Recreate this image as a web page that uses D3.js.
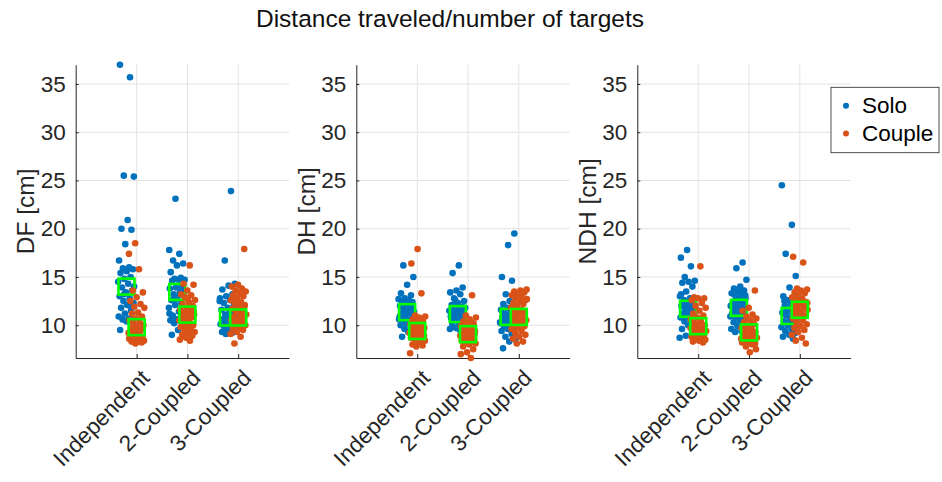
<!DOCTYPE html>
<html>
<head>
<meta charset="utf-8">
<script src="https://cdn.jsdelivr.net/npm/d3@7"></script>
<style>
  html, body { margin: 0; padding: 0; background: #fff; }
  svg { display: block; font-family: "Liberation Sans", Arial, Helvetica, sans-serif; }
</style>
</head>
<body>
<svg id="chart" width="942" height="482"></svg>
<script>
// Conditions shown on every panel
const categories = ["Independent", "2-Coupled", "3-Coupled"];
const groups = ["Solo", "Couple"];
const yTicks = [10, 15, 20, 25, 30, 35];
const yLimits = [6.6, 37];

// Distance travelled per target, one array per condition (cm)
const dfSolo = [
  [37.0, 35.7, 25.5, 25.4, 20.9, 20.0, 19.9, 18.4, 16.7, 16.0, 15.9, 15.8, 15.6, 15.4, 15.0, 14.8, 14.5, 14.3, 13.9, 13.6, 13.4, 13.0, 12.8, 12.5, 12.3, 12.1, 11.8, 11.5, 11.2, 10.9, 10.7, 10.6, 10.5, 10.4, 9.5, 12.0, 13.2, 14.0],
  [23.1, 17.8, 17.4, 16.7, 16.4, 16.2, 15.5, 14.9, 14.8, 14.7, 14.7, 14.6, 14.0, 13.9, 13.8, 13.4, 13.2, 13.1, 12.9, 12.6, 12.3, 12.1, 11.8, 11.4, 11.0, 10.8, 10.6, 10.5, 10.4, 10.2, 9.7, 9.5, 9.0, 13.6, 12.7, 11.2],
  [23.9, 16.7, 14.3, 14.1, 13.7, 13.2, 13.0, 12.8, 12.6, 12.3, 12.1, 11.8, 11.6, 11.3, 11.1, 11.0, 10.8, 10.6, 10.4, 10.2, 10.1, 9.9, 9.8, 9.6, 9.5, 9.3, 9.2, 9.1, 12.5, 11.5, 10.5, 9.4]
];
const dfCouple = [
  [18.5, 17.4, 15.8, 13.6, 13.4, 12.9, 12.5, 12.2, 11.9, 11.8, 11.3, 11.2, 10.9, 10.7, 10.5, 10.3, 10.1, 10.0, 9.8, 9.6, 9.5, 9.3, 9.2, 9.0, 8.9, 8.8, 8.7, 8.6, 8.5, 8.5, 8.4, 8.3, 8.3, 8.2, 8.1, 8.6, 9.1, 9.4],
  [16.2, 14.3, 14.2, 13.6, 13.2, 13.1, 12.9, 12.6, 12.4, 12.2, 12.0, 11.8, 11.6, 11.5, 11.3, 11.1, 11.0, 10.9, 10.8, 10.6, 10.5, 10.3, 10.2, 10.0, 9.9, 9.8, 9.6, 9.5, 9.3, 9.2, 9.0, 8.9, 8.7, 8.5, 8.4, 10.7, 11.4, 12.8],
  [17.9, 14.2, 14.0, 13.8, 13.6, 13.5, 13.3, 13.1, 13.0, 12.8, 12.6, 12.4, 12.3, 12.1, 11.9, 11.7, 11.5, 11.3, 11.1, 11.0, 10.9, 10.8, 10.6, 10.5, 10.3, 10.2, 10.0, 9.8, 9.7, 9.5, 9.3, 9.1, 8.8, 8.1, 12.0, 11.2, 10.7, 10.4]
];
const dhSolo = [
  [16.2, 15.0, 14.2, 13.3, 13.1, 12.8, 12.7, 12.6, 12.4, 12.4, 12.2, 12.0, 11.8, 11.6, 11.4, 11.3, 11.2, 11.0, 10.8, 10.6, 10.5, 10.4, 10.3, 10.2, 10.0, 9.8, 9.6, 9.5, 9.3, 8.8, 11.9, 11.5, 10.9, 12.1, 11.7, 10.7],
  [16.2, 15.4, 13.9, 13.6, 13.4, 13.2, 12.8, 12.5, 12.3, 12.1, 11.9, 11.7, 11.5, 11.4, 11.3, 11.2, 11.0, 10.9, 10.8, 10.6, 10.5, 10.3, 10.1, 9.9, 9.7, 9.6, 9.5, 12.0, 11.6, 11.1, 10.7, 10.4, 12.6, 11.8],
  [19.5, 18.3, 15.0, 14.6, 13.2, 12.9, 12.5, 12.2, 12.0, 11.8, 11.6, 11.4, 11.2, 11.0, 10.9, 10.8, 10.7, 10.5, 10.3, 10.1, 9.9, 9.8, 9.6, 9.4, 9.1, 8.8, 8.5, 8.3, 7.6, 11.5, 10.6, 10.2]
];
const dhCouple = [
  [17.9, 16.4, 13.3, 11.0, 10.9, 10.8, 10.6, 10.4, 10.3, 10.1, 10.0, 9.9, 9.7, 9.6, 9.5, 9.4, 9.3, 9.2, 9.1, 9.0, 8.9, 8.8, 8.7, 8.6, 8.5, 8.4, 8.2, 8.0, 7.9, 7.8, 7.1, 9.8, 9.2, 8.9, 10.2, 9.5],
  [13.1, 11.0, 10.8, 10.6, 10.4, 10.2, 10.0, 9.9, 9.7, 9.5, 9.4, 9.3, 9.2, 9.1, 9.0, 8.9, 8.8, 8.7, 8.6, 8.5, 8.4, 8.3, 8.2, 8.1, 8.0, 7.8, 7.5, 7.2, 7.0, 6.6, 9.6, 9.1, 8.8, 8.6, 10.1, 9.8],
  [13.7, 13.6, 13.5, 13.4, 13.2, 13.1, 12.9, 12.8, 12.6, 12.5, 12.3, 12.2, 12.0, 11.8, 11.6, 11.4, 11.3, 11.1, 10.9, 10.8, 10.6, 10.5, 10.3, 10.1, 10.0, 9.8, 9.6, 9.4, 9.2, 9.0, 8.8, 8.6, 8.3, 8.1, 12.7, 11.5, 10.7, 9.9]
];
const ndhSolo = [
  [17.8, 17.0, 16.1, 15.0, 14.6, 14.5, 14.4, 14.0, 13.5, 13.0, 12.8, 12.6, 12.4, 12.2, 12.0, 11.9, 11.7, 11.5, 11.4, 11.2, 11.0, 10.9, 10.8, 10.6, 10.4, 10.2, 10.0, 9.6, 9.2, 8.9, 8.7, 11.6, 12.1, 11.3, 12.5, 13.2],
  [16.5, 15.9, 14.7, 14.0, 13.8, 13.6, 13.5, 13.3, 13.2, 13.0, 12.8, 12.6, 12.4, 12.3, 12.1, 12.0, 11.8, 11.6, 11.5, 11.4, 11.2, 11.0, 10.8, 10.7, 10.5, 10.3, 10.1, 9.9, 9.6, 9.4, 9.3, 13.1, 12.7, 12.2, 11.9, 11.3, 10.9, 13.6],
  [24.5, 20.4, 17.4, 15.1, 13.9, 13.0, 12.8, 12.6, 12.4, 12.2, 12.0, 11.8, 11.6, 11.3, 11.1, 11.0, 10.8, 10.6, 10.4, 10.2, 10.0, 9.8, 9.6, 9.4, 9.2, 9.0, 8.8, 8.6, 11.5, 10.7, 10.1, 12.5]
];
const ndhCouple = [
  [16.1, 12.9, 12.8, 12.8, 12.6, 12.3, 12.0, 11.8, 11.5, 11.2, 11.0, 10.8, 10.6, 10.4, 10.2, 10.0, 9.9, 9.8, 9.6, 9.5, 9.4, 9.3, 9.1, 9.0, 8.9, 8.8, 8.7, 8.6, 8.5, 8.4, 8.3, 8.2, 10.1, 9.7, 9.2, 8.6],
  [13.6, 11.8, 11.5, 11.1, 10.9, 10.7, 10.5, 10.3, 10.1, 9.9, 9.7, 9.6, 9.4, 9.3, 9.1, 9.0, 8.9, 8.8, 8.7, 8.6, 8.5, 8.4, 8.3, 8.2, 8.0, 7.8, 7.5, 7.2, 9.5, 9.2, 8.9, 8.6, 10.2, 9.8, 8.1, 9.0],
  [17.1, 16.5, 13.8, 13.7, 13.6, 13.4, 13.3, 13.1, 12.9, 12.7, 12.6, 12.4, 12.2, 12.1, 11.9, 11.7, 11.6, 11.4, 11.2, 11.0, 10.9, 10.7, 10.5, 10.3, 10.1, 9.9, 9.7, 9.5, 9.3, 9.0, 8.7, 8.4, 8.1, 12.8, 11.5, 10.8, 10.0, 12.3]
];

// Group averages per condition
const dfSoloMean = [14.0, 13.45, 10.8];
const dfCoupleMean = [9.8, 11.1, 10.8];
const dhSoloMean = [11.35, 11.15, 10.86];
const dhCoupleMean = [9.4, 9.07, 10.86];
const ndhSoloMean = [11.7, 11.8, 10.96];
const ndhCoupleMean = [9.9, 9.25, 11.6];

const panelLabels = ["DF [cm]", "DH [cm]", "NDH [cm]"];
const panelSolo = [dfSolo, dhSolo, ndhSolo];
const panelCouple = [dfCouple, dhCouple, ndhCouple];
const panelSoloMean = [dfSoloMean, dhSoloMean, ndhSoloMean];
const panelCoupleMean = [dfCoupleMean, dhCoupleMean, ndhCoupleMean];

// ---- drawing ----
const svg = d3.select("#chart");
const colors = { Solo: "#0072BD", Couple: "#D95319" };
const axisColor = "#262626";
const gridColor = "#e3e3e3";
const tickFont = 22.5;
const labelFont = 24.5;

const panelLeft = [75.7, 356.3, 637.3];
const panelWidth = 213.3;
const panelTop = 64.7;
const panelHeight = 293.3;

// group offsets from the category centre and jitter half-width (category units)
const groupOffset = { Solo: -0.21, Couple: 0.0 };
const meanOffset = { Solo: -0.2, Couple: 0.0 };
const jitterHalf = 0.16;
const golden = 0.6180339887;
function jitter(i, seed) {
  const u = (seed + i * golden) % 1;
  return (u - 0.5) * 2 * jitterHalf;
}

svg.append("text")
  .attr("x", 450).attr("y", 27)
  .attr("text-anchor", "middle")
  .attr("font-size", labelFont)
  .attr("fill", "#111")
  .text("Distance traveled/number of targets");

panelLabels.forEach((label, p) => {
  const g = svg.append("g").attr("transform", `translate(${panelLeft[p]},${panelTop})`);
  const x = d3.scaleLinear().domain([-0.2, 4]).range([0, panelWidth]);
  const y = d3.scaleLinear().domain(yLimits).range([panelHeight, 0]);

  // grid
  g.append("g").selectAll("line.h").data(yTicks).join("line")
    .attr("x1", 0).attr("x2", panelWidth)
    .attr("y1", d => y(d)).attr("y2", d => y(d))
    .attr("stroke", gridColor).attr("stroke-width", 1);
  g.append("g").selectAll("line.v").data(categories).join("line")
    .attr("x1", (d, i) => x(i + 1)).attr("x2", (d, i) => x(i + 1))
    .attr("y1", 0).attr("y2", panelHeight)
    .attr("stroke", gridColor).attr("stroke-width", 1);

  // axes (ticks point inward)
  const yAxis = d3.axisLeft(y).tickValues(yTicks).tickSizeInner(-3).tickSizeOuter(0).tickPadding(10);
  const yg = g.append("g").call(yAxis);
  const xAxis = d3.axisBottom(x).tickValues([1, 2, 3]).tickSizeInner(-4).tickSizeOuter(0).tickFormat("");
  const xg = g.append("g").attr("transform", `translate(0,${panelHeight})`).call(xAxis);
  [yg, xg].forEach(a => {
    a.select(".domain").attr("stroke", axisColor).attr("stroke-width", 1);
    a.selectAll(".tick line").attr("stroke", axisColor);
  });
  yg.selectAll(".tick text")
    .attr("font-size", tickFont)
    .attr("font-family", "Liberation Sans, Arial, sans-serif")
    .attr("fill", axisColor);

  // rotated category labels
  categories.forEach((c, i) => {
    const ax = x(i + 1) + 9, ay = panelHeight + 16;
    g.append("text")
      .attr("transform", `translate(${ax},${ay}) rotate(-45)`)
      .attr("text-anchor", "end")
      .attr("dominant-baseline", "central")
      .attr("font-size", tickFont)
      .attr("fill", axisColor)
      .text(c);
  });

  // y label
  g.append("text")
    .attr("transform", `translate(-50,${panelHeight / 2}) rotate(-90)`)
    .attr("text-anchor", "middle")
    .attr("dominant-baseline", "central")
    .attr("font-size", labelFont)
    .attr("fill", axisColor)
    .text(label);

  const drawMean = (val, ci, grp) => {
    const s = 16;
    g.append("rect")
      .attr("x", x(ci + 1 + meanOffset[grp]) - s / 2)
      .attr("y", y(val) - s / 2)
      .attr("width", s).attr("height", s)
      .attr("fill", "none")
      .attr("stroke", "#00ff00")
      .attr("stroke-width", 2.6);
  };

  categories.forEach((c, ci) => {
    const solo = panelSolo[p][ci];
    const couple = panelCouple[p][ci];
    g.append("g").selectAll("circle").data(solo).join("circle")
      .attr("cx", (d, i) => x(ci + 1 + groupOffset.Solo + jitter(i, 0.13 + 0.29 * ci + 0.17 * p)))
      .attr("cy", d => y(d))
      .attr("r", 3.3)
      .attr("fill", colors.Solo);
    drawMean(panelSoloMean[p][ci], ci, "Solo");
    g.append("g").selectAll("circle").data(couple).join("circle")
      .attr("cx", (d, i) => x(ci + 1 + groupOffset.Couple + jitter(i, 0.41 + 0.23 * ci + 0.11 * p)))
      .attr("cy", d => y(d))
      .attr("r", 3.3)
      .attr("fill", colors.Couple);
    drawMean(panelCoupleMean[p][ci], ci, "Couple");
  });
});

// legend
const lg = svg.append("g").attr("transform", "translate(831,87.3)");
lg.append("rect").attr("width", 108).attr("height", 65.4)
  .attr("fill", "#fff").attr("stroke", axisColor).attr("stroke-width", 0.8);
groups.forEach((grp, i) => {
  const cy = 18.5 + i * 27.7;
  lg.append("circle").attr("cx", 15).attr("cy", cy).attr("r", 3).attr("fill", colors[grp]);
  lg.append("text").attr("x", 31).attr("y", cy)
    .attr("dominant-baseline", "central")
    .attr("font-size", tickFont).attr("fill", "#000")
    .text(grp);
});
</script>
</body>
</html>
